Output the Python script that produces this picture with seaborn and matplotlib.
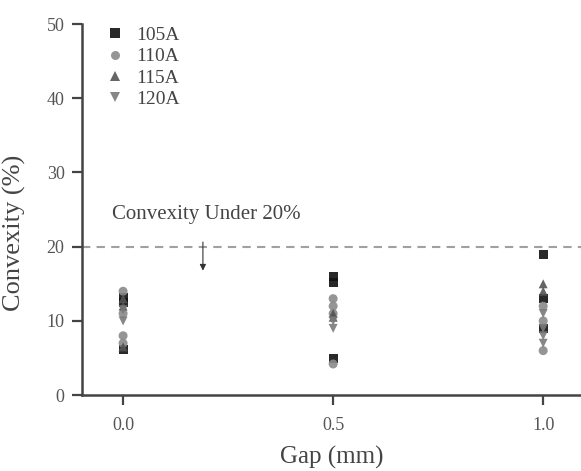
import numpy as np
import pandas as pd
import seaborn as sns
import matplotlib
matplotlib.use("Agg")
import matplotlib.pyplot as plt

# 数据 (Gap, Convexity) per current
currents = ["105A", "110A", "115A", "120A"]
gap_105 = [0.0, 0.0, 0.0, 0.5, 0.5, 0.5, 1.0, 1.0, 1.0]
cvx_105 = [6.2, 12.5, 13.2, 16.0, 15.2, 5.0, 19.0, 13.0, 9.0]
gap_110 = [0.0, 0.0, 0.0, 0.0, 0.5, 0.5, 0.5, 0.5, 1.0, 1.0, 1.0]
cvx_110 = [14.0, 8.0, 7.0, 11.0, 13.0, 12.0, 11.0, 4.2, 12.0, 6.0, 10.0]
gap_115 = [0.0, 0.0, 0.0, 0.5, 0.5, 1.0, 1.0]
cvx_115 = [13.0, 12.0, 6.5, 11.0, 10.5, 15.0, 14.0]
gap_120 = [0.0, 0.0, 0.5, 0.5, 1.0, 1.0, 1.0, 1.0]
cvx_120 = [10.0, 11.5, 9.0, 10.0, 9.0, 8.0, 7.0, 11.0]

limit_value = 20
note_text = "Convexity Under 20%"

df = pd.concat([
    pd.DataFrame({"gap": gap_105, "cvx": cvx_105, "cur": "105A"}),
    pd.DataFrame({"gap": gap_110, "cvx": cvx_110, "cur": "110A"}),
    pd.DataFrame({"gap": gap_115, "cvx": cvx_115, "cur": "115A"}),
    pd.DataFrame({"gap": gap_120, "cvx": cvx_120, "cur": "120A"}),
], ignore_index=True)

sns.set_style("ticks")
plt.rcParams["font.family"] = ["Liberation Serif", "DejaVu Serif"]

fig = plt.figure(figsize=(5.81, 4.71), dpi=100)
ax = fig.add_axes([0.141, 0.161, 0.859, 0.788])

colors = {"105A": "#111111", "110A": "#8a8a8a", "115A": "#555555", "120A": "#7a7a7a"}
markers = {"105A": "s", "110A": "o", "115A": "^", "120A": "v"}

sns.scatterplot(data=df, x="gap", y="cvx", hue="cur", style="cur",
                hue_order=currents, style_order=currents,
                palette=colors, markers=markers, s=42, linewidth=0,
                alpha=0.9, ax=ax)

ax.axhline(limit_value, color="#a0a0a0", linestyle=(0, (4, 3)), linewidth=1.5)
ax.annotate("", xy=(0.19, 16.4), xytext=(0.19, 21.0),
            arrowprops=dict(arrowstyle="-|>", color="#333333", lw=0.8,
                            mutation_scale=9))
ax.text(0.198, 24.3, note_text, ha="center", va="center",
        fontsize=15, color="#444444")

ax.set_xlim(-0.098, 1.09)
ax.set_ylim(0, 50)
ax.set_xticks([0.0, 0.5, 1.0])
ax.set_xticklabels(["0.0", "0.5", "1.0"])
ax.set_yticks([0, 10, 20, 30, 40, 50])

ax.set_xlabel("Gap (mm)", fontsize=18, color="#444444", labelpad=9)
ax.set_ylabel("Convexity (%)", fontsize=19, color="#444444")
ax.yaxis.set_label_coords(-0.112, 0.437)

for s in ["top", "right"]:
    ax.spines[s].set_visible(False)
for s in ["left", "bottom"]:
    ax.spines[s].set_color("#444444")
    ax.spines[s].set_linewidth(1.8)
ax.tick_params(direction="out", length=7.5, width=1.6, colors="#444444",
               labelcolor="#555555", labelsize=13, pad=5)
ax.tick_params(axis="x", pad=8)

leg = ax.legend(loc="upper left", bbox_to_anchor=(0.1616, 0.964),
                bbox_transform=fig.transFigure, frameon=False,
                fontsize=14, handletextpad=0.5, labelspacing=0.18,
                handlelength=1.2, markerscale=1.0, borderpad=0)
for t in leg.get_texts():
    t.set_color("#444444")

fig.savefig("out.png", dpi=100)
